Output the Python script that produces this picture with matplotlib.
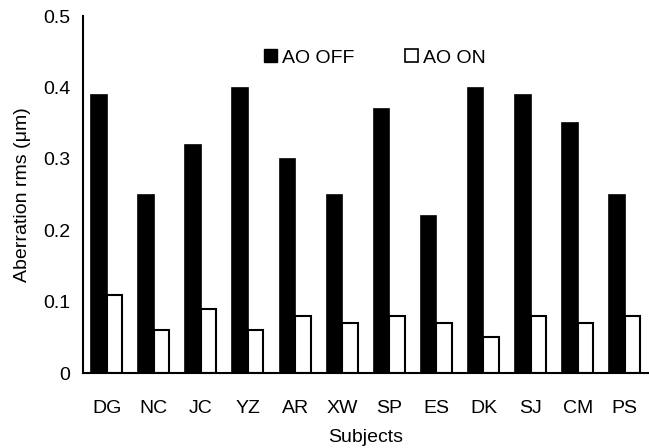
import numpy as np
import matplotlib.pyplot as plt
from matplotlib.patches import Patch

plt.rcParams['font.family'] = ['Liberation Sans', 'DejaVu Sans']

## Datos
sujetos = ['DG', 'NC', 'JC', 'YZ', 'AR', 'XW', 'SP', 'ES', 'DK', 'SJ', 'CM', 'PS']
ao_off = [0.39, 0.25, 0.32, 0.40, 0.30, 0.25, 0.37, 0.22, 0.40, 0.39, 0.35, 0.25]
ao_on = [0.11, 0.06, 0.09, 0.06, 0.08, 0.07, 0.08, 0.07, 0.05, 0.08, 0.07, 0.08]

x = np.arange(len(sujetos))
w = 0.33

fig = plt.figure(figsize=(6.49, 4.48), dpi=100)
ax = fig.add_axes([0.128, 0.167, 0.871, 0.797])

ax.bar(x - w/2, ao_off, w, color='black', edgecolor='black', linewidth=1.2)
ax.bar(x + w/2, ao_on, w, color='white', edgecolor='black', linewidth=1.5)

ax.set_xlim(-0.5, len(sujetos) - 0.5)
ax.set_ylim(0, 0.5)
ax.set_yticks([0, 0.1, 0.2, 0.3, 0.4, 0.5])
ax.set_yticklabels(['0', '0.1', '0.2', '0.3', '0.4', '0.5'])
ax.set_xticks(x)
ax.set_xticklabels(sujetos)
ax.tick_params(axis='both', length=0, labelsize=14)
ax.tick_params(axis='x', pad=19)
ax.tick_params(axis='y', pad=9)

ax.spines['top'].set_visible(False)
ax.spines['right'].set_visible(False)
ax.spines['left'].set_linewidth(1.5)
ax.spines['bottom'].set_linewidth(1.5)

ax.set_ylabel('Aberration rms (\u03bcm)', fontsize=14, labelpad=9)
ax.set_xlabel('Subjects', fontsize=14, labelpad=9)

handles = [Patch(facecolor='black', edgecolor='black'),
           Patch(facecolor='white', edgecolor='black', linewidth=1.2)]
ax.legend(handles, ['AO OFF', 'AO ON'], ncol=2, frameon=False, fontsize=14,
          loc='center', bbox_to_anchor=(0.516, 0.883), columnspacing=2.6,
          handlelength=0.67, handleheight=0.67, handletextpad=0.26)

plt.savefig('out.png', dpi=100)
